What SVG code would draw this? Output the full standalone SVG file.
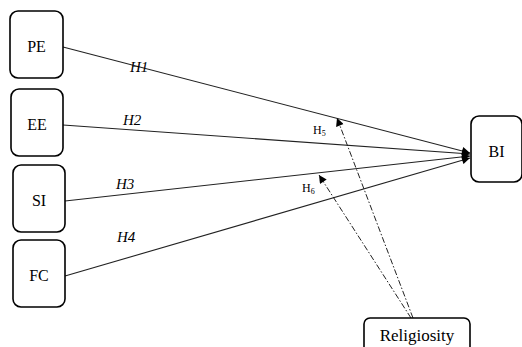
<svg xmlns="http://www.w3.org/2000/svg" width="522" height="347" viewBox="0 0 522 347">
<defs>
<marker id="arr" viewBox="0 0 10 10" refX="10" refY="5" markerWidth="10" markerHeight="8" markerUnits="userSpaceOnUse" orient="auto">
<path d="M0,0 L10,5 L0,10 z" fill="#000"/>
</marker>
</defs>
<style>
.box{fill:#fff;stroke:#000;stroke-width:1.6}
.lbl{font-size:16px;fill:#000;text-anchor:middle}
.h{font-size:15px;font-style:italic;fill:#000}
.hs{font-size:12px;fill:#000}
.sub{font-size:8px}
.ln{stroke:#222;stroke-width:1.1;fill:none;marker-end:url(#arr)}
.dl{stroke:#222;stroke-width:1;fill:none;stroke-dasharray:6,2,1.5,2;marker-end:url(#arr)}
</style>
<rect width="522" height="347" fill="#fff"/>
<g font-family="Liberation Serif, Times New Roman, serif">
<g id="connectors">
<line class="ln" x1="63" y1="47" x2="470" y2="153"/>
<line class="ln" x1="63" y1="125" x2="470" y2="154"/>
<line class="ln" x1="65" y1="201" x2="470" y2="156"/>
<line class="ln" x1="65" y1="276" x2="470" y2="158"/>
<line class="dl" x1="413" y1="318" x2="337" y2="118"/>
<line class="dl" x1="411" y1="318" x2="319" y2="175"/>
<text class="h" x="130" y="72">H1</text>
<text class="h" x="123" y="125">H2</text>
<text class="h" x="116" y="189">H3</text>
<text class="h" x="117" y="242">H4</text>
<text class="hs" x="313" y="134">H<tspan class="sub" dy="2">5</tspan></text>
<text class="hs" x="302" y="192">H<tspan class="sub" dy="2">6</tspan></text>
</g>
<g id="PE"><rect class="box" x="10" y="11" width="53" height="67" rx="8"/><text class="lbl" x="36.5" y="52">PE</text></g>
<g id="EE"><rect class="box" x="11" y="89" width="52" height="67" rx="8"/><text class="lbl" x="37" y="130">EE</text></g>
<g id="SI"><rect class="box" x="13" y="165" width="52" height="67" rx="8"/><text class="lbl" x="39" y="206">SI</text></g>
<g id="FC"><rect class="box" x="13" y="240" width="52" height="67" rx="8"/><text class="lbl" x="39" y="281">FC</text></g>
<g id="BI"><rect class="box" x="471" y="116" width="51" height="66" rx="8"/><text class="lbl" x="496.5" y="157">BI</text></g>
<g id="Religiosity"><rect class="box" x="364" y="318" width="106" height="40" rx="6"/><text class="lbl" x="417" y="341" style="font-size:17px">Religiosity</text></g>
</g>
</svg>
